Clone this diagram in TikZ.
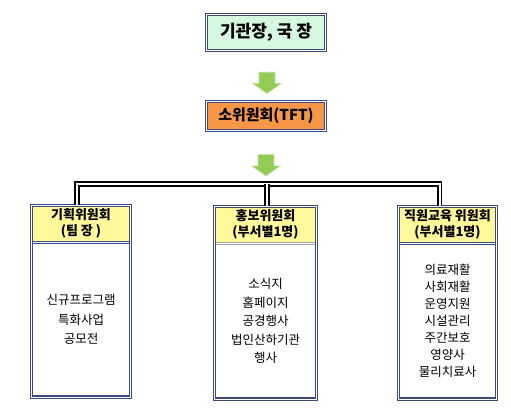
\documentclass[tikz,border=0pt]{standalone}
\usepackage{fontspec}
\setmainfont{Noto Sans CJK KR}
\usetikzlibrary{fit,positioning,shapes.arrows}
\definecolor{navy}{HTML}{3B4A7C}
\definecolor{mint}{HTML}{D6F7E0}
\definecolor{tftorange}{HTML}{F79646}
\definecolor{headyellow}{HTML}{FFF99C}
\definecolor{arrowgreen}{HTML}{92CC55}
\definecolor{arrowedge}{HTML}{B6DD8C}
\def\headfont{\fontsize{13}{16}\selectfont\bfseries}

\begin{document}
\begin{tikzpicture}[x=1pt,y=-1pt,
    boxframe/.style={draw=navy, double=white, line width=1.2pt, double distance=0.9pt, inner sep=0pt},
    sepline/.style={draw=navy, double=white, line width=0.9pt, double distance=0.8pt},
    headbox/.style={fill=headyellow, align=center, inner sep=0pt, font=\headfont},
    bodybox/.style={fill=white, align=center, inner sep=0pt},
    downarrow/.style={single arrow, rotate=-90, fill=arrowgreen, draw=arrowedge, line width=0.8pt,
      minimum height=21pt, inner xsep=0pt, inner ysep=7.5pt, single arrow head extend=6pt, single arrow tip angle=110},
    bus/.style={draw=black, double=white, line width=1.8pt, double distance=2pt}]

      \useasboundingbox[fill=white] (0,0) rectangle (511,415);

      % Chief
      \node[boxframe, fill=mint, minimum width=119, minimum height=36] (chief) at (266,32.5)
        {\fontsize{17}{20}\selectfont\bfseries 기관장, 국 장};
      \node[downarrow] (arrowa) at (267,80) {};

      % TFT
      \node[boxframe, fill=tftorange, minimum width=119, minimum height=29] (tft) at (266,116)
        {\fontsize{15}{18}\selectfont\bfseries 소위원회(TFT)};
      \node[downarrow] (arrowb) at (266,162.5) {};

      % Planning
      \node[headbox, minimum width=99, minimum height=36.5] (planhead) at (81,223.75) {기획위원회\\(팀 장 )};
      \node[bodybox, minimum width=99, minimum height=154.5, below=0pt of planhead, font=\fontsize{12.5}{19.5}\selectfont] (planbody)
        {신규프로그램\\특화사업\\공모전};
      \draw[sepline] (planhead.south west) -- (planhead.south east);
      \node[boxframe, fit=(planhead)(planbody)] (plan) {};

      % Promotion
      \node[headbox, minimum width=102, minimum height=36.5] (promohead) at (265.5,224.75) {홍보위원회\\(부서별1명)};
      \node[bodybox, minimum width=102, minimum height=155.5, below=0pt of promohead, font=\fontsize{12.5}{18.5}\selectfont] (promobody)
        {소식지\\홈페이지\\공경행사\\법인산하기관\\행사};
      \draw[sepline, draw=gray!70] (promohead.south west) -- (promohead.south east);
      \node[boxframe, fit=(promohead)(promobody)] (promo) {};

      % Staff training
      \node[headbox, minimum width=98, minimum height=36.5] (staffhead) at (447.5,224.75) {직원교육 위원회\\(부서별1명)};
      \node[bodybox, minimum width=98, minimum height=155.5, below=0pt of staffhead, font=\fontsize{12.5}{17}\selectfont] (staffbody)
        {의료재활\\사회재활\\운영지원\\시설관리\\주간보호\\영양사\\물리치료사};
      \draw[sepline] (staffhead.south west) -- (staffhead.south east);
      \node[boxframe, fit=(staffhead)(staffbody)] (staff) {};

      % Bus
      \coordinate (hub) at (267,184);
      \draw[bus] ([xshift=-4pt]plan.north) |- (hub) -| ([xshift=-8pt]staff.north);
      \draw[bus] (hub) -- (hub |- promo.north);

\end{tikzpicture}
\end{document}
